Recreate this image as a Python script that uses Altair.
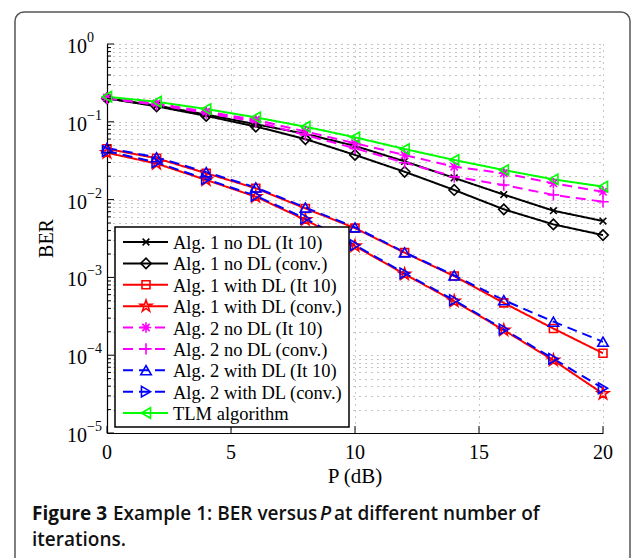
import altair as alt
import pandas as pd

# ---------------- data ----------------
P = [0, 2, 4, 6, 8, 10, 12, 14, 16, 18, 20]

series_names = [
    "Alg. 1 no DL (It 10)",
    "Alg. 1 no DL (conv.)",
    "Alg. 1 with DL (It 10)",
    "Alg. 1 with DL (conv.)",
    "Alg. 2 no DL (It 10)",
    "Alg. 2 no DL (conv.)",
    "Alg. 2 with DL (It 10)",
    "Alg. 2 with DL (conv.)",
    "TLM algorithm",
]

a1_nodl_it10 = [0.200, 0.162, 0.124, 0.093, 0.070, 0.049, 0.031, 0.0190, 0.0116, 0.0072, 0.0053]
a1_nodl_conv = [0.200, 0.158, 0.119, 0.087, 0.060, 0.0375, 0.0228, 0.0133, 0.0075, 0.0048, 0.0035]
a1_dl_it10 = [0.045, 0.034, 0.0218, 0.0140, 0.0077, 0.0043, 0.00208, 0.00104, 4.7e-4, 2.2e-4, 1.06e-4]
a1_dl_conv = [0.040, 0.029, 0.0179, 0.0109, 0.0055, 0.00253, 0.00110, 4.95e-4, 2.1e-4, 8.6e-5, 3.2e-5]
a2_nodl_it10 = [0.205, 0.172, 0.135, 0.106, 0.075, 0.053, 0.0374, 0.0265, 0.0218, 0.0162, 0.0126]
a2_nodl_conv = [0.200, 0.165, 0.130, 0.100, 0.0676, 0.0456, 0.0298, 0.0197, 0.0154, 0.0115, 0.0094]
a2_dl_it10 = [0.046, 0.035, 0.0225, 0.0143, 0.0079, 0.0044, 0.00210, 0.00106, 5.1e-4, 2.7e-4, 1.49e-4]
a2_dl_conv = [0.042, 0.030, 0.0183, 0.0112, 0.0057, 0.00260, 0.00113, 5.1e-4, 2.15e-4, 9.0e-5, 3.76e-5]
tlm = [0.210, 0.181, 0.146, 0.114, 0.0865, 0.0632, 0.0447, 0.0323, 0.024, 0.0182, 0.0147]

all_series = [a1_nodl_it10, a1_nodl_conv, a1_dl_it10, a1_dl_conv,
              a2_nodl_it10, a2_nodl_conv, a2_dl_it10, a2_dl_conv, tlm]

x_tick_labels = [0, 5, 10, 15, 20]
decades = [1, 1e-1, 1e-2, 1e-3, 1e-4, 1e-5]
decade_exps = ["0", "\u22121", "\u22122", "\u22123", "\u22124", "\u22125"]

# ---------------- styles ----------------
colors = ["#000000", "#000000", "#ff0000", "#ff0000", "#ff00ff", "#ff00ff",
          "#0000ff", "#0000ff", "#00ff00"]
dashes = [[1, 0], [1, 0], [1, 0], [1, 0], [10, 6], [10, 6], [10, 6], [10, 6], [1, 0]]
X_PATH = "M-1,-1L1,1M-1,1L1,-1"
STAR_PATH = ("M0,-1L0.225,-0.309L0.951,-0.309L0.363,0.118L0.588,0.809L0,0.382"
             "L-0.588,0.809L-0.363,0.118L-0.951,-0.309L-0.225,-0.309Z")
AST_PATH = "M-1,0L1,0M0,-1L0,1M-0.7,-0.7L0.7,0.7M-0.7,0.7L0.7,-0.7"
PLUS_PATH = "M-1,0L1,0M0,-1L0,1"
shapes = [X_PATH, "diamond", "square", STAR_PATH, AST_PATH, PLUS_PATH,
          "triangle-up", "triangle-right", "triangle-left"]
msizes = [45, 110, 64, 150, 110, 130, 110, 110, 110]

rows = []
for i, (name, vals) in enumerate(zip(series_names, all_series)):
    for p, v in zip(P, vals):
        rows.append({"series": name, "P": p, "BER": v, "msize": msizes[i], "k": i})
df = pd.DataFrame(rows)

legend_df = pd.DataFrame({"series": series_names,
                          "row": list(range(len(series_names))),
                          "msize": msizes})

ytick_major = pd.DataFrame({"v": decades, "e": decade_exps})
minor_vals = []
for d in decades[1:]:
    for m in range(2, 10):
        minor_vals.append(m * d)
ytick_minor = pd.DataFrame({"v": minor_vals})
grid_vals = sorted(decades + minor_vals)
xt_df = pd.DataFrame({"v": x_tick_labels, "t": [str(v) for v in x_tick_labels]})
one = pd.DataFrame({"a": [0]})

W, H = 496, 389
SERIF = "Liberation Serif"
SANS = "Open Sans"

xs = alt.Scale(domain=[0, 20], nice=False)
ys = alt.Scale(type="log", domain=[1e-5, 1], nice=False)

color = alt.Color("series:N", scale=alt.Scale(domain=series_names, range=colors), legend=None)
dash = alt.StrokeDash("series:N", scale=alt.Scale(domain=series_names, range=dashes), legend=None)
shape = alt.Shape("series:N", scale=alt.Scale(domain=series_names, range=shapes), legend=None)

xaxis = alt.Axis(values=x_tick_labels, grid=True, gridDash=[1, 5], gridColor="#8f8f8f",
                 gridWidth=1, labels=False, ticks=False, domainColor="#000000",
                 domainWidth=1.2, title=None)
yaxis = alt.Axis(values=grid_vals, grid=True, gridDash=[1, 5], gridColor="#8f8f8f",
                 gridWidth=1, labels=False, ticks=False, domainColor="#000000",
                 domainWidth=1.2, title=None)

# frame around the figure (kept within the page width so nothing is rescaled)
frame = alt.Chart(one).mark_rect(fillOpacity=0, stroke="#555555", strokeWidth=1.5,
                                 cornerRadius=9, clip=False).encode(
    x=alt.value(-92), x2=alt.value(523), y=alt.value(-32), y2=alt.value(600))

lines = alt.Chart(df).mark_line(strokeWidth=2, clip=True).encode(
    x=alt.X("P:Q", scale=xs, axis=xaxis),
    y=alt.Y("BER:Q", scale=ys, axis=yaxis),
    color=color, strokeDash=dash, detail="series:N")

points = alt.Chart(df).mark_point(filled=False, strokeWidth=1.6, opacity=1).encode(
    x=alt.X("P:Q", scale=xs),
    y=alt.Y("BER:Q", scale=ys, axis=None),
    color=color, shape=shape,
    size=alt.Size("msize:Q", scale=None))

# inward ticks
ytm = alt.Chart(ytick_major).mark_rule(color="black", strokeWidth=1).encode(
    y=alt.Y("v:Q", scale=ys, axis=None), x=alt.value(0), x2=alt.value(7))
ytn = alt.Chart(ytick_minor).mark_rule(color="black", strokeWidth=1).encode(
    y=alt.Y("v:Q", scale=ys, axis=None), x=alt.value(0), x2=alt.value(4))
xtm = alt.Chart(xt_df).mark_rule(color="black", strokeWidth=1).encode(
    x=alt.X("v:Q", scale=xs), y=alt.value(H), y2=alt.value(H - 7))

# tick labels
ylab10 = alt.Chart(ytick_major).mark_text(font=SERIF, fontSize=20, align="right",
                                          baseline="alphabetic", dy=9, color="black").encode(
    y=alt.Y("v:Q", scale=ys, axis=None), x=alt.value(-20), text=alt.value("10"))
ylabexp = alt.Chart(ytick_major).mark_text(font=SERIF, fontSize=14, align="left",
                                           baseline="alphabetic", dy=-2, color="black").encode(
    y=alt.Y("v:Q", scale=ys, axis=None), x=alt.value(-20), text="e:N")
xlab = alt.Chart(xt_df).mark_text(font=SERIF, fontSize=20, align="center",
                                  baseline="alphabetic", color="black").encode(
    x=alt.X("v:Q", scale=xs), y=alt.value(H + 26), text="t:N")

xtitle = alt.Chart(one).mark_text(font=SERIF, fontSize=21, align="center",
                                  baseline="alphabetic", color="black").encode(
    x=alt.value(W / 2), y=alt.value(H + 50), text=alt.value("P (dB)"))
ytitle = alt.Chart(one).mark_text(font=SERIF, fontSize=20, align="center",
                                  baseline="middle", angle=270, color="black").encode(
    x=alt.value(-60), y=alt.value(H / 2), text=alt.value("BER"))

# legend
leg_y = alt.Y("row:Q", scale=alt.Scale(domain=[0, 8], range=[198, 369]), axis=None)
leg_box = alt.Chart(one).mark_rect(fill="white", stroke="black", strokeWidth=1.5).encode(
    x=alt.value(8), x2=alt.value(242), y=alt.value(183), y2=alt.value(383))
leg_lines = alt.Chart(legend_df).mark_rule(strokeWidth=2).encode(
    y=leg_y, x=alt.value(16), x2=alt.value(61), color=color, strokeDash=dash)
leg_pts = alt.Chart(legend_df).mark_point(filled=False, strokeWidth=1.6, opacity=1).encode(
    y=leg_y, x=alt.value(39), color=color, shape=shape,
    size=alt.Size("msize:Q", scale=None))
leg_text = alt.Chart(legend_df).mark_text(font=SERIF, fontSize=18.5, align="left",
                                          baseline="middle", color="black", dy=1).encode(
    y=leg_y, x=alt.value(66), text="series:N")

# caption
cap_y1 = H + 87
cap_y2 = H + 113
CF = 19
cap1 = alt.Chart(one).mark_text(font=SANS, fontSize=CF, fontWeight="bold", align="left",
                                baseline="alphabetic", color="#111111").encode(
    x=alt.value(-75), y=alt.value(cap_y1), text=alt.value("Figure 3"))
cap2 = alt.Chart(one).mark_text(font=SANS, fontSize=CF, fontWeight=600, align="left",
                                baseline="alphabetic", color="#111111").encode(
    x=alt.value(6), y=alt.value(cap_y1), text=alt.value("Example 1: BER versus"))
cap3 = alt.Chart(one).mark_text(font=SANS, fontSize=CF, fontWeight=600, fontStyle="italic",
                                align="left", baseline="alphabetic", color="#111111").encode(
    x=alt.value(213), y=alt.value(cap_y1), text=alt.value("P"))
cap4 = alt.Chart(one).mark_text(font=SANS, fontSize=CF, fontWeight=600, align="left",
                                baseline="alphabetic", color="#111111").encode(
    x=alt.value(227), y=alt.value(cap_y1), text=alt.value("at different number of"))
cap5 = alt.Chart(one).mark_text(font=SANS, fontSize=CF, fontWeight=600, align="left",
                                baseline="alphabetic", color="#111111").encode(
    x=alt.value(-75), y=alt.value(cap_y2), text=alt.value("iterations."))

chart = alt.layer(
    frame, lines, points, ytm, ytn, xtm, ylab10, ylabexp, xlab, xtitle, ytitle,
    leg_box, leg_lines, leg_pts, leg_text, cap1, cap2, cap3, cap4, cap5
).resolve_scale(y="independent").properties(
    width=W, height=H,
    padding={"left": 6, "top": 3, "right": 0, "bottom": 0},
    background="white",
).configure_view(strokeWidth=0)

chart.save("out.html", embed_options={"renderer": "svg", "actions": False})
